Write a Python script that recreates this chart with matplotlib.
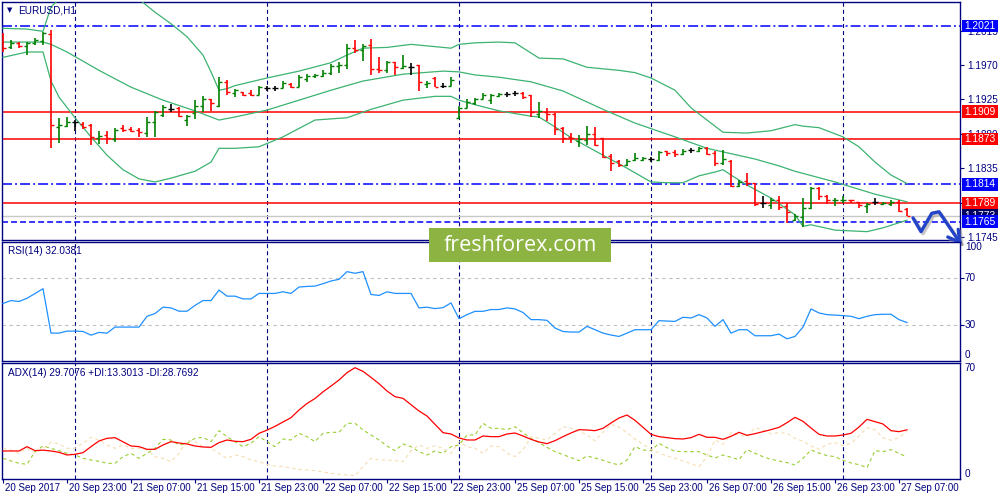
import matplotlib
matplotlib.use("Agg")
import matplotlib.pyplot as plt
import matplotlib.patheffects as pe
from matplotlib.patches import Rectangle
from matplotlib.transforms import blended_transform_factory as blend
import numpy as np

plt.rcParams['font.family'] = ['Liberation Sans', 'DejaVu Sans']
plt.rcParams['lines.scale_dashes'] = False

# ---------------- data ----------------
symbol = "EURUSD,H1"
time_labels = ["20 Sep 2017", "20 Sep 23:00", "21 Sep 07:00", "21 Sep 15:00",
               "21 Sep 23:00", "22 Sep 07:00", "22 Sep 15:00", "22 Sep 23:00",
               "25 Sep 07:00", "25 Sep 15:00", "25 Sep 23:00", "26 Sep 07:00",
               "26 Sep 15:00", "26 Sep 23:00", "27 Sep 07:00"]
label_step = 8
day_starts = [9, 33, 57, 81, 105]

opens = [1.2000, 1.1993, 1.1999, 1.1995, 1.1999, 1.2001, 1.2010, 1.1889, 1.1890, 1.1895,
         1.1893, 1.1892, 1.1875, 1.1878, 1.1873, 1.1888, 1.1886, 1.1885, 1.1881, 1.1895,
         1.1905, 1.1912, 1.1914, 1.1898, 1.1907, 1.1916, 1.1926, 1.1916, 1.1948, 1.1933,
         1.1935, 1.1933, 1.1931, 1.1940, 1.1940, 1.1940, 1.1945, 1.1941, 1.1952, 1.1956,
         1.1956, 1.1960, 1.1969, 1.1970, 1.1992, 1.1990, 1.1996, 1.1965, 1.1963, 1.1974,
         1.1966, 1.1967, 1.1970, 1.1945, 1.1953, 1.1943, 1.1943, 1.1901, 1.1914, 1.1920,
         1.1926, 1.1924, 1.1929, 1.1932, 1.1933, 1.1933, 1.1931, 1.1906, 1.1909, 1.1906,
         1.1888, 1.1876, 1.1871, 1.1872, 1.1880, 1.1875, 1.1851, 1.1844, 1.1839, 1.1846,
         1.1846, 1.1847, 1.1846, 1.1858, 1.1856, 1.1854, 1.1859, 1.1858, 1.1861, 1.1855,
         1.1842, 1.1844, 1.1812, 1.1818, 1.1816, 1.1790, 1.1787, 1.1794, 1.1786, 1.1767,
         1.1771, 1.1783, 1.1809, 1.1799, 1.1793, 1.1793, 1.1794, 1.1791, 1.1786, 1.1791,
         1.1788, 1.1788, 1.1791, 1.1782]
highs = [1.2012, 1.2003, 1.2000, 1.2000, 1.2005, 1.2013, 1.2016, 1.1901, 1.1902, 1.1898,
         1.1895, 1.1893, 1.1884, 1.1884, 1.1888, 1.1892, 1.1889, 1.1888, 1.1902, 1.1910,
         1.1918, 1.1919, 1.1915, 1.1905, 1.1924, 1.1929, 1.1926, 1.1954, 1.1950, 1.1939,
         1.1935, 1.1937, 1.1943, 1.1943, 1.1943, 1.1949, 1.1946, 1.1957, 1.1958, 1.1958,
         1.1963, 1.1971, 1.1974, 1.1997, 1.2003, 1.1997, 1.2004, 1.1980, 1.1975, 1.1974,
         1.1983, 1.1973, 1.1970, 1.1949, 1.1954, 1.1946, 1.1954, 1.1916, 1.1926, 1.1927,
         1.1933, 1.1932, 1.1933, 1.1935, 1.1936, 1.1935, 1.1931, 1.1922, 1.1914, 1.1907,
         1.1889, 1.1881, 1.1878, 1.1890, 1.1889, 1.1875, 1.1854, 1.1846, 1.1847, 1.1855,
         1.1850, 1.1850, 1.1858, 1.1858, 1.1859, 1.1860, 1.1861, 1.1863, 1.1863, 1.1858,
         1.1859, 1.1846, 1.1820, 1.1829, 1.1816, 1.1799, 1.1796, 1.1798, 1.1790, 1.1775,
         1.1796, 1.1811, 1.1811, 1.1800, 1.1796, 1.1798, 1.1794, 1.1791, 1.1790, 1.1796,
         1.1791, 1.1794, 1.1793, 1.1783]
lows = [1.1987, 1.1991, 1.1992, 1.1983, 1.1996, 1.1996, 1.1861, 1.1868, 1.1889, 1.1884,
        1.1886, 1.1865, 1.1867, 1.1867, 1.1869, 1.1882, 1.1882, 1.1876, 1.1876, 1.1876,
        1.1902, 1.1909, 1.1902, 1.1890, 1.1899, 1.1909, 1.1910, 1.1915, 1.1931, 1.1928,
        1.1929, 1.1929, 1.1931, 1.1936, 1.1936, 1.1940, 1.1940, 1.1941, 1.1948, 1.1953,
        1.1954, 1.1957, 1.1960, 1.1965, 1.1986, 1.1975, 1.1957, 1.1960, 1.1960, 1.1957,
        1.1965, 1.1957, 1.1936, 1.1940, 1.1941, 1.1940, 1.1943, 1.1899, 1.1914, 1.1918,
        1.1926, 1.1919, 1.1928, 1.1928, 1.1929, 1.1926, 1.1902, 1.1901, 1.1897, 1.1878,
        1.1868, 1.1868, 1.1863, 1.1865, 1.1864, 1.1848, 1.1831, 1.1837, 1.1838, 1.1844,
        1.1844, 1.1843, 1.1844, 1.1851, 1.1850, 1.1852, 1.1855, 1.1856, 1.1852, 1.1838,
        1.1839, 1.1811, 1.1811, 1.1812, 1.1786, 1.1783, 1.1782, 1.1780, 1.1763, 1.1766,
        1.1758, 1.1782, 1.1794, 1.1788, 1.1786, 1.1790, 1.1790, 1.1783, 1.1776, 1.1787,
        1.1787, 1.1786, 1.1778, 1.1773]
closes = [1.1992, 1.1999, 1.1995, 1.1999, 1.2003, 1.2012, 1.1892, 1.1892, 1.1895, 1.1895,
          1.1889, 1.1876, 1.1877, 1.1875, 1.1885, 1.1885, 1.1884, 1.1882, 1.1895, 1.1909,
          1.1915, 1.1912, 1.1903, 1.1903, 1.1916, 1.1926, 1.1920, 1.1948, 1.1935, 1.1937,
          1.1931, 1.1931, 1.1941, 1.1940, 1.1940, 1.1946, 1.1941, 1.1954, 1.1956, 1.1957,
          1.1960, 1.1969, 1.1970, 1.1992, 1.1990, 1.1995, 1.1965, 1.1963, 1.1974, 1.1967,
          1.1969, 1.1967, 1.1948, 1.1946, 1.1941, 1.1943, 1.1950, 1.1914, 1.1922, 1.1926,
          1.1931, 1.1931, 1.1932, 1.1932, 1.1933, 1.1928, 1.1909, 1.1910, 1.1906, 1.1886,
          1.1875, 1.1875, 1.1873, 1.1880, 1.1865, 1.1850, 1.1842, 1.1839, 1.1844, 1.1848,
          1.1848, 1.1847, 1.1856, 1.1855, 1.1854, 1.1858, 1.1859, 1.1861, 1.1854, 1.1842,
          1.1847, 1.1812, 1.1817, 1.1816, 1.1788, 1.1790, 1.1793, 1.1784, 1.1778, 1.1773,
          1.1783, 1.1809, 1.1799, 1.1794, 1.1794, 1.1794, 1.1793, 1.1787, 1.1788, 1.1791,
          1.1790, 1.1791, 1.1779, 1.1773]

bb_up_x = [0, 3, 5, 6, 7, 9, 11, 13, 15, 17, 19, 21, 23, 25, 26, 27, 28, 29, 33, 37,
           41, 43, 45, 48, 51, 55, 56, 57, 59, 62, 64, 67, 70, 73, 77, 79, 81, 84, 86, 88,
           90, 93, 96, 99, 100, 102, 105, 107, 109, 111, 113]
bb_up = [1.2018, 1.2017, 1.2014, 1.2046, 1.2056, 1.2060, 1.2062, 1.2064, 1.2062, 1.2056,
         1.2039, 1.2024, 1.2007, 1.1983, 1.1961, 1.1937, 1.1939, 1.1943, 1.1953, 1.1962,
         1.1973, 1.1983, 1.1992, 1.1993, 1.1997, 1.1993, 1.1992, 1.1997, 1.1999, 1.2000,
         1.1999, 1.1979, 1.1978, 1.1967, 1.1963, 1.1960, 1.1953, 1.1937, 1.1914, 1.1898,
         1.1882, 1.1881, 1.1884, 1.1892, 1.1890, 1.1888, 1.1876, 1.1863, 1.1843, 1.1826,
         1.1815]
bb_mid_x = [0, 3, 5, 6, 8, 12, 16, 20, 24, 27, 29, 33, 37, 41, 45, 50, 55, 57, 59, 62,
            66, 70, 75, 79, 84, 88, 91, 94, 97, 99, 104, 109, 113]
bb_mid = [1.2000, 1.2000, 1.2000, 1.1997, 1.1987, 1.1963, 1.1941, 1.1924, 1.1910, 1.1898,
          1.1902, 1.1911, 1.1924, 1.1937, 1.1949, 1.1958, 1.1962, 1.1961, 1.1957, 1.1954,
          1.1948, 1.1936, 1.1912, 1.1894, 1.1876, 1.1861, 1.1854, 1.1847, 1.1838, 1.1831,
          1.1817, 1.1801, 1.1791]
bb_lo_x = [0, 3, 5, 6, 7, 9, 11, 13, 15, 17, 19, 21, 24, 26, 27, 29, 32, 35, 39, 43,
           46, 50, 54, 56, 57, 59, 62, 66, 67, 69, 71, 75, 78, 81, 83, 85, 87, 89, 90, 91,
           93, 96, 99, 100, 101, 104, 108, 110, 113]
bb_lo = [1.1980, 1.1987, 1.1987, 1.1949, 1.1928, 1.1901, 1.1876, 1.1852, 1.1833, 1.1821,
         1.1817, 1.1822, 1.1831, 1.1843, 1.1861, 1.1861, 1.1863, 1.1876, 1.1898, 1.1901,
         1.1912, 1.1924, 1.1929, 1.1929, 1.1924, 1.1918, 1.1910, 1.1903, 1.1902, 1.1889,
         1.1875, 1.1852, 1.1835, 1.1817, 1.1816, 1.1816, 1.1825, 1.1830, 1.1833, 1.1826,
         1.1813, 1.1796, 1.1774, 1.1759, 1.1761, 1.1754, 1.1752, 1.1757, 1.1767]

rsi = [48.1, 50.6, 49.8, 52.5, 56.5, 60.6, 23.1, 23.1, 24.8, 24.8,
       24.5, 21.4, 23.7, 23.1, 28.2, 28.2, 28.2, 28.2, 37.3, 39.6,
       45.0, 44.4, 41.6, 41.6, 46.5, 50.6, 50.6, 59.4, 54.3, 54.3,
       52.0, 52.0, 56.6, 56.6, 56.6, 58.0, 56.6, 62.0, 62.5, 62.8,
       64.8, 67.1, 68.5, 75.0, 73.6, 75.0, 55.7, 54.9, 58.0, 56.6,
       56.6, 56.6, 44.4, 45.0, 43.8, 44.6, 48.6, 35.3, 38.7, 41.5,
       41.5, 43.0, 43.0, 44.4, 43.5, 40.5, 34.5, 34.5, 33.9, 27.4,
       24.5, 24.0, 24.0, 28.8, 26.0, 23.1, 21.5, 20.3, 23.1, 26.0,
       26.0, 26.0, 33.6, 33.3, 33.0, 36.5, 35.9, 38.7, 35.9, 28.8,
       34.5, 23.1, 26.0, 26.0, 20.9, 20.9, 20.9, 22.3, 18.3, 20.3,
       28.2, 43.5, 40.1, 38.7, 38.3, 37.9, 37.3, 35.3, 37.3, 38.7,
       39.0, 39.0, 34.5, 32.04]
adx = [17.0, 17.0, 17.0, 19.6, 17.2, 17.5, 17.0, 16.2, 14.6, 15.0,
       16.0, 19.6, 23.0, 24.6, 25.0, 22.5, 20.0, 19.6, 18.0, 18.0,
       20.6, 22.6, 21.8, 21.2, 20.0, 19.4, 19.2, 22.0, 23.6, 22.8,
       22.6, 24.0, 27.6, 29.5, 31.8, 34.4, 37.0, 41.6, 45.5, 48.5,
       52.5, 56.0, 59.6, 64.0, 67.0, 64.8, 61.2, 57.4, 53.0, 49.6,
       48.6, 44.8, 41.0, 38.0, 33.0, 28.0, 27.2, 24.8, 23.6, 23.6,
       26.0, 25.6, 25.6, 27.2, 27.8, 26.0, 24.0, 22.4, 21.4, 23.2,
       25.6, 27.8, 29.8, 29.6, 29.2, 30.6, 33.8, 36.8, 38.6, 35.4,
       31.2, 27.0, 25.6, 25.0, 24.4, 24.2, 25.0, 27.0, 25.2, 25.2,
       24.0, 25.8, 28.2, 26.4, 27.4, 28.6, 29.8, 31.2, 34.0, 37.2,
       34.8, 30.8, 27.0, 26.0, 26.0, 26.6, 27.6, 31.4, 36.0, 34.6,
       33.2, 29.2, 28.6, 29.71]
plus_di = [12.6, 11.0, 9.6, 9.0, 16.6, 20.0, 18.6, 17.2, 15.6, 14.6,
           12.6, 11.6, 10.8, 9.6, 9.6, 13.6, 15.6, 12.6, 15.6, 18.6,
           24.0, 23.6, 20.6, 21.6, 24.6, 25.2, 22.6, 29.2, 25.6, 22.6,
           19.6, 21.6, 25.6, 22.6, 19.6, 24.2, 23.6, 27.6, 25.6, 22.6,
           27.6, 28.2, 28.2, 33.6, 33.6, 29.6, 26.6, 23.6, 20.0, 17.2,
           21.2, 19.6, 16.6, 14.6, 17.0, 15.6, 19.6, 20.6, 26.6, 26.6,
           33.6, 30.6, 30.6, 29.8, 31.6, 28.0, 24.6, 22.0, 19.2, 16.6,
           14.8, 13.0, 11.2, 14.0, 12.8, 11.4, 9.8, 8.6, 11.6, 19.6,
           17.6, 17.2, 21.6, 19.0, 16.8, 16.6, 16.6, 16.6, 14.6, 12.8,
           14.6, 13.2, 11.8, 17.8, 15.6, 13.6, 12.0, 11.0, 10.0, 8.6,
           12.6, 17.6, 15.8, 14.2, 13.6, 11.4, 9.8, 8.8, 7.0, 17.2,
           16.6, 17.8, 15.6, 13.30]
minus_di = [18.6, 17.6, 15.6, 18.6, 15.6, 18.6, 22.2, 21.2, 18.6, 18.6,
            21.6, 25.2, 23.6, 20.6, 18.6, 20.6, 18.6, 18.6, 17.6, 13.6,
            12.6, 10.6, 15.6, 23.6, 22.6, 19.6, 18.6, 15.6, 12.6, 14.6,
            13.6, 11.6, 10.6, 9.0, 8.0, 7.6, 6.8, 6.0, 5.6, 5.2,
            4.4, 3.6, 3.0, 2.6, 2.2, 7.6, 12.6, 11.6, 11.6, 11.2,
            10.6, 17.2, 20.6, 18.6, 20.2, 18.6, 15.6, 22.6, 19.6, 18.6,
            15.6, 20.0, 19.6, 15.8, 13.6, 17.8, 25.6, 24.6, 23.6, 27.6,
            31.6, 30.6, 28.8, 26.6, 23.0, 28.2, 33.0, 31.4, 28.0, 24.2,
            21.0, 18.2, 15.8, 14.0, 12.6, 11.0, 9.4, 7.6, 13.6, 23.6,
            21.0, 28.0, 26.6, 25.6, 31.0, 29.6, 27.2, 28.0, 27.6, 24.6,
            22.8, 20.0, 18.0, 21.0, 22.0, 20.2, 21.6, 26.0, 31.0, 29.8,
            25.0, 23.4, 25.0, 28.77]

rsi_title = "RSI(14) 32.0381"
adx_title = "ADX(14) 29.7076 +DI:13.3013 -DI:28.7692"

levels_dashdot = [1.2021, 1.1814]
levels_dashed = [1.1765]
levels_red = [1.1909, 1.1873, 1.1789]
bid_price = 1.1773
price_ticks = [1.2015, 1.1970, 1.1925, 1.1880, 1.1835, 1.1790, 1.1745]
level_labels = [(1.2021, '#0000ff'), (1.1909, '#ff0000'), (1.1873, '#ff0000'),
                (1.1814, '#0000ff'), (1.1789, '#ff0000'), (1.1773, '#000060'),
                (1.1765, '#0000ff')]

# hand-drawn forecast arrow (bar index, price)
arrow_x = [113.75, 114.75, 116.1, 117.0, 119.6]
arrow_y = [1.1770, 1.1752, 1.1776, 1.1778, 1.1738]
arrow_barbs = [([118.1, 119.6], [1.1745, 1.1738]), ([119.4, 119.6], [1.1755, 1.1738])]

brand = "freshforex.com"

# ---------------- layout ----------------
NAVY = '#000080'
W, H = 1000, 500


def px_rect(l, t, r, b):
    return [l / W, 1 - b / H, (r - l) / W, (b - t) / H]


fig = plt.figure(figsize=(10, 5), dpi=100)
fig.patch.set_facecolor('white')
ax = fig.add_axes(px_rect(2, 2, 960, 240))
ax_rsi = fig.add_axes(px_rect(2, 242, 960, 360.5))
ax_adx = fig.add_axes(px_rect(2, 362.7, 960, 479.3))

n = len(closes)
x = np.arange(n)
xlim = (-0.125, 119.625)

for a in (ax, ax_rsi, ax_adx):
    a.set_xlim(*xlim)
    for s in a.spines.values():
        s.set_color(NAVY)
        s.set_linewidth(1.0)
    a.set_xticks([])
    for d in day_starts:
        a.axvline(d, color=NAVY, lw=0.8, ls=(0, (2.9, 2.2)), zorder=1)

# ---- main price panel ----
ylim_main = (1.174108, 1.20524)
ax.set_ylim(*ylim_main)
cols = ['#008000' if c > o else ('#ff0000' if c < o else 'black') for o, c in zip(opens, closes)]
ax.vlines(x, lows, highs, colors=cols, lw=1.2, zorder=4)
ax.hlines(opens, x - 0.42, x, colors=cols, lw=1.0, zorder=4)
ax.hlines(closes, x, x + 0.42, colors=cols, lw=1.0, zorder=4)

bb_col = '#3cb371'
ax.plot(bb_up_x, bb_up, color=bb_col, lw=0.9, zorder=3)
ax.plot(bb_mid_x, bb_mid, color=bb_col, lw=0.9, zorder=3)
ax.plot(bb_lo_x, bb_lo, color=bb_col, lw=0.9, zorder=3)

for lv in levels_dashdot:
    ax.axhline(lv, color='#0000ff', lw=1.1, ls=(0, (7.2, 2.2, 1.4, 2.2)), zorder=2)
for lv in levels_dashed:
    ax.axhline(lv, color='#0000ff', lw=1.1, ls=(0, (4.3, 2.2)), zorder=2)
for lv in levels_red:
    ax.axhline(lv, color='#ff0000', lw=1.1, zorder=2)
ax.axhline(bid_price, color='#c8c8c8', lw=1.0, zorder=1.5)

ax.yaxis.tick_right()
ax.set_yticks(price_ticks)
ax.set_yticklabels([f"{v:.4f}" for v in price_ticks])
ax.tick_params(axis='y', direction='out', length=3, width=0.8, colors=NAVY,
               labelsize=7.2, pad=2)

# coloured level labels on the price scale (boxes sized in pixels)
tr = blend(ax.transAxes, ax.transData)
ax_w_px = 958.0
ax_h_px = 238.0
price_per_px = (ylim_main[1] - ylim_main[0]) / ax_h_px
box_x0 = (962 - 2) / ax_w_px
box_w = 36 / ax_w_px
box_half_h = 6.3 * price_per_px
for k, (val, col) in enumerate(level_labels):
    ax.add_patch(Rectangle((box_x0, val - box_half_h), box_w, 2 * box_half_h,
                           transform=tr, fc=col, ec='none', clip_on=False, zorder=9 + 2 * k))
    ax.text(box_x0 + box_w / 2, val, f"{val:.4f}", transform=tr, ha='center',
            va='center', color='white', fontsize=7.4, zorder=10 + 2 * k, clip_on=False)

# arrow
shadow = [pe.SimpleLineShadow(offset=(1.5, -1.5), shadow_color='#909090', alpha=0.5), pe.Normal()]
ax.plot(arrow_x, arrow_y, color='#2444c8', lw=2.4, solid_capstyle='round',
        solid_joinstyle='round', clip_on=False, zorder=30, path_effects=shadow)
for bx, by in arrow_barbs:
    ax.plot(bx, by, color='#2444c8', lw=2.4, solid_capstyle='round', clip_on=False,
            zorder=30, path_effects=shadow)

fig.text(10 / W, 1 - 10 / H, '\u25BC', fontsize=5, color=NAVY, ha='center', va='center',
         family='DejaVu Sans')
fig.text(18 / W, 1 - 10.5 / H, symbol, fontsize=7.2, color=NAVY, ha='left', va='center')

# ---- RSI panel ----
ax_rsi.set_ylim(0, 100)
ax_rsi.axhline(70, color='#c0c0c0', lw=0.8, ls=(0, (2.5, 2.5)), zorder=1)
ax_rsi.axhline(30, color='#c0c0c0', lw=0.8, ls=(0, (2.5, 2.5)), zorder=1)
ax_rsi.plot(x, rsi, color='#1e90ff', lw=0.9, zorder=3)
ax_rsi.yaxis.tick_right()
ax_rsi.set_yticks([70, 30])
ax_rsi.set_yticklabels([])
ax_rsi.tick_params(axis='y', direction='out', length=3, width=0.8, colors=NAVY)
tr_r = blend(ax_rsi.transAxes, ax_rsi.transData)
for v, va in [(100, 'top'), (70, 'center'), (30, 'center'), (0, 'bottom')]:
    ax_rsi.text(1.005, v, str(v), transform=tr_r, ha='left', va=va, fontsize=7.2,
                color=NAVY, clip_on=False)
fig.text(8 / W, 1 - 251.5 / H, rsi_title, fontsize=7.2, color=NAVY, ha='left', va='center')

# ---- ADX panel ----
ax_adx.set_ylim(0, 70)
ax_adx.plot(x, plus_di, color='#9acd32', lw=0.8, ls=(0, (2.5, 2.2)), zorder=3)
ax_adx.plot(x, minus_di, color='#f5deb3', lw=0.8, ls=(0, (2.5, 2.2)), zorder=3)
ax_adx.plot(x, adx, color='#ff0000', lw=0.9, zorder=4)
ax_adx.set_yticks([])
tr_a = blend(ax_adx.transAxes, ax_adx.transData)
for v, va in [(70, 'top'), (0, 'bottom')]:
    ax_adx.text(1.005, v, str(v), transform=tr_a, ha='left', va=va, fontsize=7.2,
                color=NAVY, clip_on=False)
fig.text(8 / W, 1 - 372.5 / H, adx_title, fontsize=7.2, color=NAVY, ha='left', va='center')

tick_pos = list(range(0, n, label_step))[:len(time_labels)]
ax_adx.set_xticks(tick_pos)
ax_adx.set_xticklabels([])
ax_adx.tick_params(axis='x', direction='out', length=3, width=0.8, colors=NAVY)
tr_x = blend(ax_adx.transData, ax_adx.transAxes)
for p, lab in zip(tick_pos, time_labels):
    ax_adx.text(p + 0.2, -0.075, lab, transform=tr_x, ha='left', va='center',
                fontsize=7.0, color=NAVY, clip_on=False)

# ---- brand box ----
fig.patches.append(Rectangle((429 / W, 1 - 262 / H), 182 / W, 34 / H,
                             transform=fig.transFigure, fc='#8db443', ec='none', zorder=20))
fig.text(520 / W, 1 - 245.5 / H, brand, fontsize=15.5, color='white', ha='center',
         va='center', family='Open Sans', zorder=21)

fig.savefig('out.png', dpi=100, facecolor='white')
